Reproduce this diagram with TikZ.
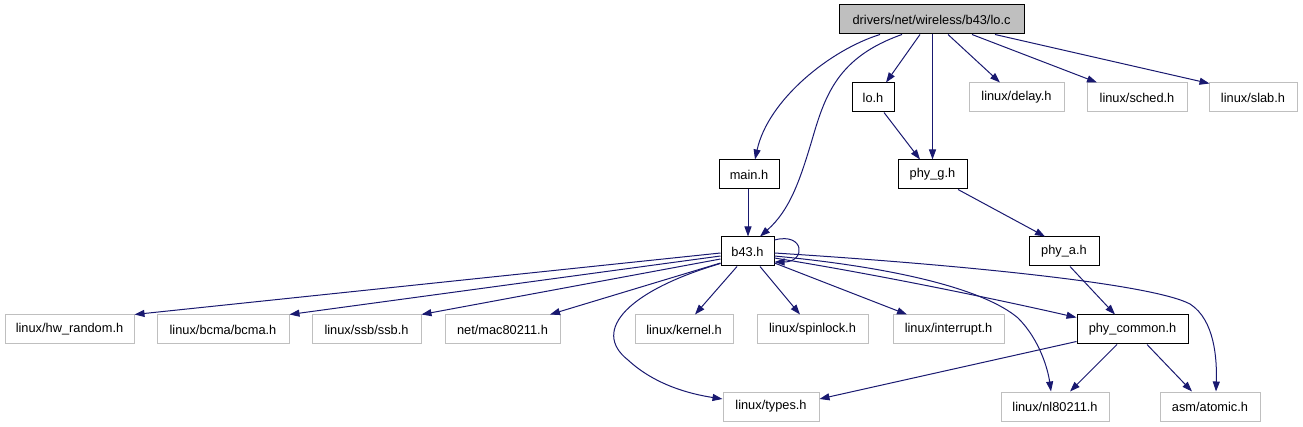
\documentclass[tikz,border=0pt]{standalone}
\usepackage{fontspec}
\setmainfont{Liberation Sans}
\usetikzlibrary{arrows.meta}
\definecolor{edgecol}{HTML}{191970}
\definecolor{extgray}{HTML}{BFBFBF}
\tikzset{
  filebox/.style={draw=black, line width=1pt, rectangle, inner sep=0pt, minimum height=29pt, font=\fontsize{12.8}{15}\selectfont},
  extbox/.style={draw=extgray, line width=1pt, rectangle, inner sep=0pt, minimum height=29pt, font=\fontsize{12.8}{15}\selectfont},
  rootbox/.style={filebox, fill=extgray},
  dep/.style={draw=edgecol, line width=1pt, -{Triangle[length=10pt,width=7pt]}, fill=none},
}
\begin{document}
\begin{tikzpicture}[x=1pt,y=-1pt]
\useasboundingbox (0,0) rectangle (1303,427);
% nodes
\node[rootbox, minimum width=185pt] (loc) at (931.5,19.5) {drivers/net/wireless/b43/lo.c};
\node[filebox, minimum width=42pt] (loh) at (873,97.5) {lo.h};
\node[extbox, minimum width=95pt] (delay) at (1016.5,97.5) {linux/delay.h};
\node[extbox, minimum width=100pt] (sched) at (1137,97.5) {linux/sched.h};
\node[extbox, minimum width=88pt] (slab) at (1253,97.5) {linux/slab.h};
\node[filebox, minimum width=60pt] (main) at (749,174.5) {main.h};
\node[filebox, minimum width=69pt] (phyg) at (932.5,174.5) {phy\_g.h};
\node[filebox, minimum width=53pt] (b43) at (747.5,251.5) {b43.h};
\node[filebox, minimum width=70pt] (phya) at (1064,251.5) {phy\_a.h};
\node[extbox, minimum width=129pt] (hwr) at (69.5,329.5) {linux/hw\_random.h};
\node[extbox, minimum width=132pt] (bcma) at (223,329.5) {linux/bcma/bcma.h};
\node[extbox, minimum width=109pt] (ssb) at (366.5,329.5) {linux/ssb/ssb.h};
\node[extbox, minimum width=115pt] (mac) at (502.5,329.5) {net/mac80211.h};
\node[extbox, minimum width=98pt] (kernel) at (684,329.5) {linux/kernel.h};
\node[extbox, minimum width=111pt] (spin) at (812.5,329.5) {linux/spinlock.h};
\node[extbox, minimum width=111pt] (intr) at (948.5,329.5) {linux/interrupt.h};
\node[filebox, minimum width=111pt] (phyc) at (1132.5,329.5) {phy\_common.h};
\node[extbox, minimum width=96pt] (types) at (771,406.5) {linux/types.h};
\node[extbox, minimum width=108pt] (nl) at (1055,406.5) {linux/nl80211.h};
\node[extbox, minimum width=100pt] (atomic) at (1210,406.5) {asm/atomic.h};
% edges from lo.c
\draw[dep] ([xshift=-51.5pt]loc.south) .. controls (830,50) and (768,100) .. ([xshift=6pt]main.north);
\draw[dep] ([xshift=-29.5pt]loc.south) .. controls (838,57) and (825,95) .. (812,140) .. controls (800,180) and (790,210) .. ([xshift=12.5pt]b43.north);
\draw[dep] ([xshift=-11.5pt]loc.south) -- ([xshift=13pt]loh.north);
\draw[dep] ([xshift=1pt]loc.south) -- (phyg.north);
\draw[dep] ([xshift=16.5pt]loc.south) -- ([xshift=-16.5pt]delay.north);
\draw[dep] ([xshift=40.5pt]loc.south) -- ([xshift=-40pt]sched.north);
\draw[dep] ([xshift=63.5pt]loc.south) -- ([xshift=1pt,yshift=-1pt]slab.north west);
% second level
\draw[dep] ([xshift=11pt]loh.south) -- ([xshift=-12.5pt]phyg.north);
\draw[dep] ([xshift=-1pt]main.south) -- ([xshift=0.5pt]b43.north);
\draw[dep] ([xshift=25.5pt]phyg.south) -- ([xshift=-19pt]phya.north);
\draw[dep] ([xshift=6pt]phya.south) -- ([xshift=-17.5pt]phyc.north);
% from b43.h
\draw[dep] ([yshift=-1.5pt]b43.west) -- (hwr.north east);
\draw[dep] ([yshift=-4.5pt]b43.west) -- (bcma.north east);
\draw[dep] ([yshift=-7.5pt]b43.west) -- (ssb.north east);
\draw[dep] ([yshift=-11.5pt]b43.west) -- ([xshift=47.5pt]mac.north);
\draw[dep] ([yshift=3pt]b43.south west) .. controls (630,290) and (590,330) .. (628,360) .. controls (655,385) and (690,394) .. ([yshift=7.5pt]types.west);
\draw[dep] ([xshift=-10.5pt]b43.south) -- ([xshift=11pt]kernel.north);
\draw[dep] ([xshift=12.5pt]b43.south) -- ([xshift=-12.5pt]spin.north);
\draw[dep] ([yshift=-11.5pt]b43.east) -- ([xshift=-41.5pt]intr.north);
\draw[dep] ([yshift=-6.5pt]b43.east) .. controls (880,275) and (1000,300) .. ([yshift=-3pt]phyc.north west);
\draw[dep] ([yshift=-4.5pt]b43.east) .. controls (900,268) and (985,290) .. (1018,318) .. controls (1040,340) and (1048,370) .. ([xshift=-4pt]nl.north);
\draw[dep] ([yshift=-1.5pt]b43.east) .. controls (950,264) and (1150,283) .. (1190,304) .. controls (1215,320) and (1217,360) .. ([xshift=6pt]atomic.north);
\draw[dep] ([yshift=11.5pt]b43.east) .. controls (805,232) and (806,262) .. ([yshift=-10.5pt]b43.east);
% from phy_common.h
\draw[dep] ([yshift=3pt]phyc.south west) -- ([yshift=7.5pt]types.east);
\draw[dep] ([xshift=-15.5pt]phyc.south) -- ([xshift=15pt]nl.north);
\draw[dep] ([xshift=14.5pt]phyc.south) -- ([xshift=-18pt]atomic.north);
\end{tikzpicture}
\end{document}
